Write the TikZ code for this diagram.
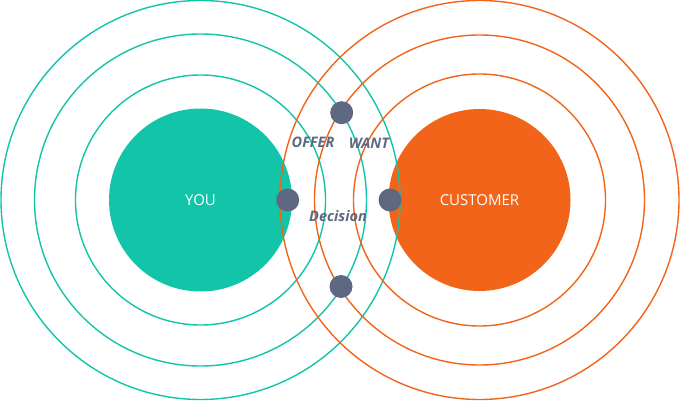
\documentclass[tikz,border=0pt]{standalone}
\usepackage{fontspec}
\setmainfont{Open Sans}
\definecolor{teal1}{HTML}{12C4A8}
\definecolor{orange1}{HTML}{F26419}
\definecolor{slate}{HTML}{5E6880}
\begin{document}
\begin{tikzpicture}[x=1pt,y=-1pt,
  ringT/.style={draw=teal1,line width=1.4pt},
  ringO/.style={draw=orange1,line width=1.4pt},
  dot/.style={circle,fill=slate,minimum size=23pt,inner sep=0pt},
  lbl/.style={text=slate,font=\fontsize{14.5}{16}\selectfont\bfseries\itshape},
  core/.style={text=white,font=\fontsize{15}{17}\selectfont}]
\useasboundingbox (0,0) rectangle (680,401);
\coordinate (L) at (200.5,200);
\coordinate (R) at (479.5,200);
\fill[teal1] (L) circle (91.5);
\fill[orange1] (R) circle (91);
\foreach \r in {125,166,199.5} \draw[ringT] (L) circle (\r);
\foreach \r in {126,165,199.5} \draw[ringO] (R) circle (\r);
\node[core] (you) at (L) {YOU};
\node[core] (cust) at (R) {CUSTOMER};
\node[dot] (dtop) at (341.7,112.7) {};
\node[dot] (dleft) at (287.7,200) {};
\node[dot] (dright) at (390,200) {};
\node[dot] (dbot) at (341,286.5) {};
\node[lbl] (offer) at (313,142.5) {OFFER};
\node[lbl] (want) at (369,143.5) {WANT};
\node[lbl] (dec) at (338,216.5) {Decision};
\end{tikzpicture}
\end{document}
